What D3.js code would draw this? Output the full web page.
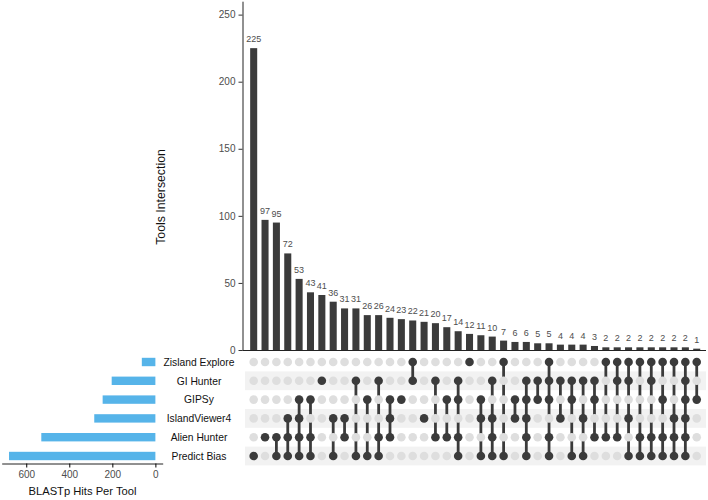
<!DOCTYPE html>
<html><head><meta charset="utf-8">
<script src="https://cdn.jsdelivr.net/npm/d3@7"></script>
<style>body{margin:0;background:#fff;}svg{display:block;font-family:"Liberation Sans",Arial,sans-serif;}</style>
</head><body>
<svg id="c" width="708" height="500"></svg>
<script>
const sets = ["Zisland Explore","GI Hunter","GIPSy","IslandViewer4","Alien Hunter","Predict Bias"];
const setSizes = [63, 203, 245, 284, 530, 680];
const counts = [225,97,95,72,53,43,41,36,31,31,26,26,24,23,22,21,20,17,14,12,11,10,7,6,6,5,5,4,4,4,3,2,2,2,2,2,2,2,2,1];
// membership of each intersection (indices into sets)
const members = [
 [5],[4],[4,5],[3,4,5],[2,3,4,5],[2,4,5],[1],[3,5],[3,4],[1,5],
 [2,5],[1,4,5],[2,3,4],[2],[0,1],[3],[1,4],[2,4],[1,2,4,5],[0],
 [2,3,5],[1,3,4,5],[0,5],[2,3],[1,2,3,4,5],[1,2],[0,1,2,4,5],[1,3],[1,2,5],[1,3,5],
 [1,2,4],[0,4],[0,1,4],[0,1,3,5],[0,4,5],[0,1,4,5],[0,2,4,5],[0,3,4,5],[0,1,2,3,4,5],[0,2]
];
const yTicks = [0,50,100,150,200,250];
const setTicks = [0,200,400,600];

const svg = d3.select("#c");
const dark = "#3b3b3b", tickCol = "#4d4d4d";

const x = d3.scaleBand().domain(d3.range(counts.length)).range([248, 702.4]).padding(0);
const cx = i => x(i) + x.bandwidth()/2;
const barW = x.bandwidth()*0.62;
const y = d3.scaleLinear().domain([0, 260]).range([350, 1.2]);
const rowY = d3.scalePoint().domain(d3.range(sets.length)).range([362, 456]);

// shading
svg.append("g").selectAll("rect").data(d3.range(sets.length).filter(i => i%2===1)).join("rect")
  .attr("x", 245).attr("width", 461).attr("y", i => rowY(i)-9.4).attr("height", 18.8).attr("fill", "#f2f2f2");

// intersection bars
svg.append("g").selectAll("rect").data(counts).join("rect")
  .attr("x", (d,i) => cx(i)-barW/2).attr("width", barW)
  .attr("y", d => y(d)).attr("height", d => 350 - y(d)).attr("fill", dark);
svg.append("g").selectAll("text").data(counts).join("text")
  .attr("x", (d,i) => cx(i)).attr("y", d => y(d)-6).attr("text-anchor","middle")
  .attr("font-size", 9).attr("fill", tickCol).text(d => d);

// y axis
const yAx = svg.append("g").attr("transform","translate(242.5,0)")
  .call(d3.axisLeft(y).tickValues(yTicks).tickSize(4).tickSizeOuter(0));
yAx.select(".domain").attr("stroke", "#222");
yAx.selectAll(".tick line").attr("stroke", "#333");
yAx.selectAll(".tick text").attr("font-size", 10).attr("fill", tickCol).attr("font-family","Liberation Sans, Arial, sans-serif");
svg.append("line").attr("x1",242.5).attr("x2",706).attr("y1",350.5).attr("y2",350.5).attr("stroke","#222");
svg.append("text").attr("transform","translate(165,197) rotate(-90)").attr("text-anchor","middle")
  .attr("font-size", 12.3).attr("fill","#111").text("Tools Intersection");

// matrix
const mg = svg.append("g");
counts.forEach((c,i) => {
  const m = members[i];
  if (m.length > 1) {
    mg.append("line").attr("x1", cx(i)).attr("x2", cx(i))
      .attr("y1", rowY(d3.min(m))).attr("y2", rowY(d3.max(m)))
      .attr("stroke", dark).attr("stroke-width", 2.8);
  }
  sets.forEach((s,j) => {
    mg.append("circle").attr("cx", cx(i)).attr("cy", rowY(j)).attr("r", 4.3)
      .attr("fill", m.includes(j) ? dark : "#dedede");
  });
});

// set size bars
const sx = d3.scaleLinear().domain([714, -34]).range([1.7, 162.7]);
svg.append("g").selectAll("rect").data(setSizes).join("rect")
  .attr("x", d => sx(d)).attr("width", d => sx(0)-sx(d))
  .attr("y", (d,i) => rowY(i)-4.2).attr("height", 8.4).attr("fill", "#56b4e9");
svg.append("g").selectAll("text").data(sets).join("text")
  .attr("x", 199).attr("y", (d,i) => rowY(i)+3.7).attr("text-anchor","middle")
  .attr("font-size", 10.3).attr("fill","#111").text(d => d);
const sAx = svg.append("g").attr("transform","translate(0,463.5)")
  .call(d3.axisBottom(sx).tickValues(setTicks).tickSize(4).tickSizeOuter(0));
sAx.select(".domain").attr("stroke","#222");
sAx.selectAll(".tick text").attr("font-size", 10).attr("fill", tickCol).attr("font-family","Liberation Sans, Arial, sans-serif");
svg.append("text").attr("x", 82.5).attr("y", 495).attr("text-anchor","middle")
  .attr("font-size", 11.2).attr("fill","#111").text("BLASTp Hits Per Tool");
</script>
</body></html>
